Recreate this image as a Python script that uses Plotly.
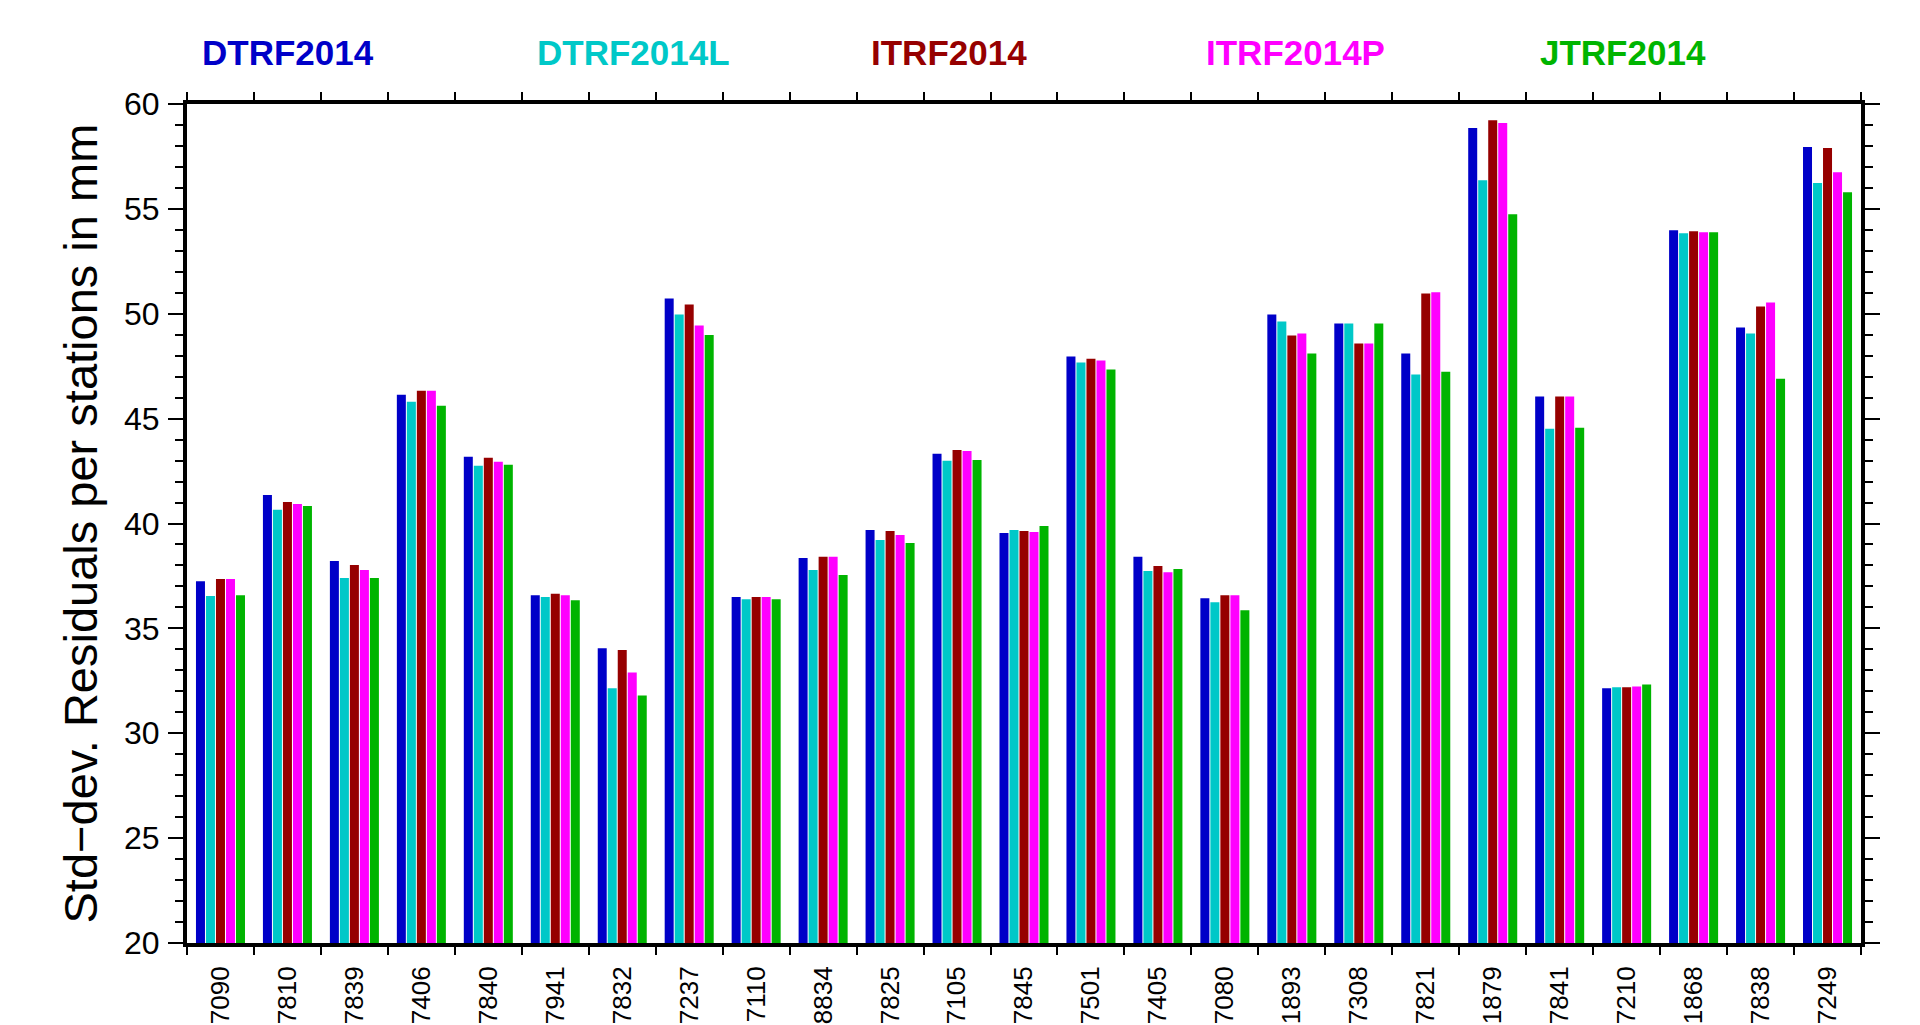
import plotly.graph_objects as go

# Station identifiers along the x axis
stations = ["7090", "7810", "7839", "7406", "7840", "7941", "7832", "7237",
            "7110", "8834", "7825", "7105", "7845", "7501", "7405", "7080",
            "1893", "7308", "7821", "1879", "7841", "7210", "1868", "7838",
            "7249"]

# Std-dev of residuals per station (mm) for each reference frame solution
dtrf2014 = [37.25, 41.36, 38.21, 46.14, 43.18, 36.58, 34.05, 50.73, 36.49, 38.35,
            39.69, 43.32, 39.55, 47.96, 38.41, 36.44, 49.96, 49.53, 48.10, 58.85,
            46.05, 32.14, 53.98, 49.34, 57.95]
dtrf2014l = [36.54, 40.65, 37.40, 45.81, 42.75, 36.49, 32.14, 49.96, 36.39, 37.78,
             39.21, 42.99, 39.69, 47.67, 37.73, 36.25, 49.63, 49.53, 47.10, 56.37,
             44.52, 32.19, 53.84, 49.06, 56.23]
itrf2014 = [37.35, 41.03, 38.02, 46.33, 43.13, 36.65, 33.97, 50.44, 36.49, 38.41,
            39.64, 43.51, 39.64, 47.86, 37.97, 36.58, 48.96, 48.58, 50.97, 59.23,
            46.05, 32.19, 53.93, 50.35, 57.90]
itrf2014p = [37.35, 40.93, 37.78, 46.33, 42.94, 36.58, 32.90, 49.44, 36.49, 38.41,
             39.45, 43.46, 39.59, 47.77, 37.68, 36.58, 49.06, 48.58, 51.02, 59.09,
             46.05, 32.23, 53.88, 50.54, 56.75]
jtrf2014 = [36.58, 40.84, 37.40, 45.61, 42.80, 36.34, 31.80, 48.99, 36.39, 37.54,
            39.07, 43.03, 39.88, 47.34, 37.83, 35.87, 48.10, 49.53, 47.24, 54.74,
            44.56, 32.33, 53.88, 46.90, 55.79]

series_names = ["DTRF2014", "DTRF2014L", "ITRF2014", "ITRF2014P", "JTRF2014"]
series_values = [dtrf2014, dtrf2014l, itrf2014, itrf2014p, jtrf2014]
series_colors = ["#0000c8", "#00c8c8", "#960000", "#ff00ff", "#00b400"]

W, H = 1920, 1025
ML, MR, MT, MB = 187, 59, 104, 82
PW, PH = W - ML - MR, H - MT - MB


def px_x(px):
    return (px - ML) / PW


def px_y(py):
    return (H - MB - py) / PH


fig = go.Figure()
for name, vals, col in zip(series_names, series_values, series_colors):
    fig.add_trace(go.Bar(
        x=stations, y=vals, name=name,
        marker=dict(color=col, line=dict(width=0)),
        showlegend=False,
    ))

annotations = []
# colored series names across the top
for i, (name, col) in enumerate(zip(series_names, series_colors)):
    annotations.append(dict(
        text=name, xref="paper", yref="paper",
        x=px_x(200 + 334.5 * i), y=px_y(52),
        xanchor="left", yanchor="middle", showarrow=False,
        font=dict(family="Liberation Sans, Arial, sans-serif", size=35,
                  color=col, weight="bold"),
    ))
# y-axis title
annotations.append(dict(
    text="Std\u2212dev. Residuals per stations in mm",
    xref="paper", yref="paper", x=px_x(80), y=0.5,
    xanchor="center", yanchor="middle", textangle=-90, showarrow=False,
    font=dict(family="Liberation Sans, Arial, sans-serif",
              size=47, color="black"),
))

y_tick_font = dict(family="Liberation Sans, Arial, sans-serif", size=32, color="black")
x_tick_font = dict(family="Liberation Sans, Arial, sans-serif", size=26, color="black")

fig.update_layout(
    width=W, height=H,
    margin=dict(l=ML, r=MR, t=MT, b=MB, pad=0, autoexpand=False),
    paper_bgcolor="white", plot_bgcolor="white",
    barmode="group", bargap=0.253, bargroupgap=0.1,
    annotations=annotations,
    xaxis=dict(
        type="category", tickson="boundaries", automargin=False,
        showline=True, linewidth=4, linecolor="black", mirror="ticks",
        ticks="outside", ticklen=8, tickwidth=1.5, tickcolor="black",
        tickangle=-90, tickfont=x_tick_font, ticklabelstandoff=9,
        showgrid=False, zeroline=False,
    ),
    yaxis=dict(
        range=[20, 60], dtick=5, tick0=20, automargin=False,
        showline=True, linewidth=4, linecolor="black", mirror="ticks",
        ticks="outside", ticklen=15, tickwidth=1.5, tickcolor="black",
        tickfont=y_tick_font, ticklabelstandoff=2,
        minor=dict(dtick=1, ticks="outside", ticklen=8, tickwidth=1.5,
                   tickcolor="black", showgrid=False),
        showgrid=False, zeroline=False,
    ),
)

fig.write_html("out.html")
